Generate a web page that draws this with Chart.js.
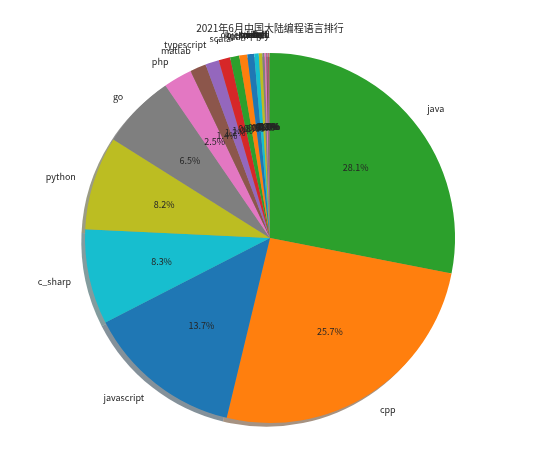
<!DOCTYPE html>
<html>
<head>
<meta charset="utf-8">
<script src="https://cdn.jsdelivr.net/npm/chart.js@4/dist/chart.umd.min.js"></script>
<style>
  html, body { margin: 0; padding: 0; background: #fff; }
  #wrap { width: 538px; height: 461px; }
</style>
</head>
<body>
<div id="wrap"><canvas id="pie_chart"></canvas></div>
<script>
// languages in clockwise order from 12 o'clock
const languages = ['java', 'cpp', 'javascript', 'c_sharp', 'python', 'go', 'php', 'matlab',
    'typescript', 'r', 'scala', 'lua', 'kotlin', 'rust', 'swift', 'ruby', 'dart', 'perl',
    'shell', 'objective_c', 'groovy', 'delphi', 'haskell'];
const shares = [28.1, 25.7, 13.7, 8.3, 8.2, 6.5, 2.5, 1.4,
    1.2, 1.0, 0.8, 0.7, 0.6, 0.4, 0.3, 0.2, 0.15, 0.1,
    0.08, 0.05, 0.04, 0.03, 0.02];
const chartTitle = '2021年6月中国大陆编程语言排行';

const tab10 = ['#1f77b4', '#ff7f0e', '#2ca02c', '#d62728', '#9467bd',
    '#8c564b', '#e377c2', '#7f7f7f', '#bcbd22', '#17becf'];

/** colours cycle the same way matplotlib does (smallest slice first) */
function getColors() {
    const n = languages.length;
    return languages.map((_, i) => tab10[(n - 1 - i) % 10]);
}

function shadowOf(hex) {
    const r = parseInt(hex.slice(1, 3), 16) * 0.3;
    const g = parseInt(hex.slice(3, 5), 16) * 0.3;
    const b = parseInt(hex.slice(5, 7), 16) * 0.3;
    return `rgba(${r},${g},${b},0.5)`;
}

const FONT = "'Noto Sans CJK SC', 'DejaVu Sans', sans-serif";

const pieDecor = {
    id: 'pieDecor',
    beforeDatasetsDraw(chart) {
        const ctx = chart.ctx;
        const arcs = chart.getDatasetMeta(0).data;
        const colors = chart.data.datasets[0].backgroundColor;
        ctx.save();
        arcs.forEach((arc, i) => {
            const off = arc.outerRadius * 0.02;
            const cx = arc.x - off, cy = arc.y + off;
            ctx.beginPath();
            ctx.moveTo(cx, cy);
            ctx.arc(cx, cy, arc.outerRadius, arc.startAngle, arc.endAngle);
            ctx.closePath();
            ctx.fillStyle = shadowOf(colors[i]);
            ctx.fill();
        });
        ctx.restore();
    },
    afterDatasetsDraw(chart) {
        const ctx = chart.ctx;
        const arcs = chart.getDatasetMeta(0).data;
        const data = chart.data.datasets[0].data;
        const total = data.reduce((a, b) => a + b, 0);
        ctx.save();
        ctx.fillStyle = '#262626';
        ctx.font = `9px ${FONT}`;
        ctx.textBaseline = 'middle';
        arcs.forEach((arc, i) => {
            const mid = (arc.startAngle + arc.endAngle) / 2;
            const c = Math.cos(mid), s = Math.sin(mid);
            // name outside
            ctx.textAlign = c > 0 ? 'left' : 'right';
            ctx.fillText(chart.data.labels[i], arc.x + 1.1 * arc.outerRadius * c, arc.y + 1.1 * arc.outerRadius * s);
            // percentage inside
            ctx.textAlign = 'center';
            const pct = (data[i] / total * 100).toFixed(1) + '%';
            ctx.fillText(pct, arc.x + 0.6 * arc.outerRadius * c, arc.y + 0.6 * arc.outerRadius * s);
        });
        ctx.restore();
    }
};

new Chart(document.getElementById('pie_chart'), {
    type: 'pie',
    data: {
        labels: languages,
        datasets: [{
            data: shares,
            backgroundColor: getColors(),
            borderWidth: 0
        }]
    },
    options: {
        responsive: true,
        maintainAspectRatio: false,
        animation: false,
        layout: { padding: { left: 85, right: 83, top: 0, bottom: 38 } },
        plugins: {
            legend: { display: false },
            tooltip: { enabled: false },
            title: {
                display: true,
                text: chartTitle,
                color: '#262626',
                font: { family: FONT, size: 10, weight: 'normal' },
                padding: { top: 22, bottom: 19 }
            }
        }
    },
    plugins: [pieDecor]
});
</script>
</body>
</html>
